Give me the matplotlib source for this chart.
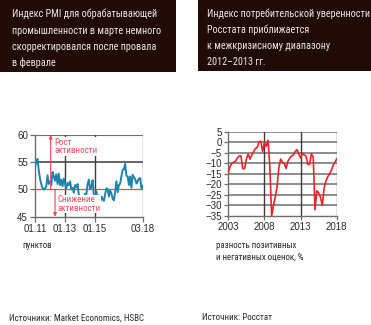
import matplotlib
matplotlib.use("Agg")
import os
import matplotlib.pyplot as plt
from matplotlib import font_manager
from matplotlib.font_manager import FontProperties

# --- data -----------------------------------------------------------------
# Manufacturing PMI, monthly, Jan 2011 .. Mar 2018
pmi_values = [
    54.2, 55.0, 55.6, 53.5, 52.0, 51.0, 50.3, 50.0, 50.2, 50.6, 52.6, 51.0,
    51.5, 50.8, 53.2, 52.4, 51.6, 52.8, 51.0, 52.9, 50.8, 51.8, 50.6, 52.0,
    51.0, 50.2, 51.2, 50.8, 51.5, 50.0, 50.3, 49.4, 50.8, 50.4, 51.0, 49.0,
    48.4, 48.8, 48.3, 48.6, 49.2, 49.1, 51.0, 51.8, 50.1, 50.4, 51.7, 48.9,
    47.6, 49.7, 48.1, 48.9, 47.6, 48.7, 48.3, 47.9, 49.1, 50.2, 50.1, 48.7,
    49.8, 49.3, 48.3, 48.0, 49.6, 51.5, 49.5, 50.8, 51.1, 52.4, 53.6, 53.7,
    54.7, 52.5, 52.4, 50.8, 52.4, 50.3, 52.7, 52.2, 51.9, 51.1, 51.5, 52.0,
    52.1, 50.2, 50.6,
]
pmi_tick_months = [0, 24, 48, 86]
pmi_tick_labels = ["01.11", "01.13", "01.15", "03.18"]
pmi_yticks = [45, 50, 55, 60]

# Rosstat consumer confidence index, quarterly, Q1 2003 .. Q1 2018
cci_start_year = 2003
cci_values = [
    -14.5, -11.5, -10.0, -9.5,
    -9.0, -7.5, -6.5, -6.5,
    -12.5, -12.5, -8.0, -5.5,
    -8.0, -6.0, -4.5, -3.0,
    -2.5, 0.0, 0.5, -4.5,
    0.0, -2.0, 1.0, -12.0,
    -35.0, -30.0, -26.0, -21.0,
    -12.0, -8.0, -9.5, -10.0,
    -12.5, -9.0, -7.5, -6.5,
    -6.0, -4.5, -3.5, -5.5,
    -7.5, -5.5, -6.0, -6.5,
    -10.5, -10.5, -5.5, -7.0,
    -32.0, -23.0, -24.0, -26.0,
    -30.0, -22.0, -18.5, -16.5,
    -15.0, -13.5, -11.0, -9.5,
    -8.0,
]
cci_xticks = [2003, 2008, 2013, 2018]
cci_yticks = [5, 0, -5, -10, -15, -20, -25, -30, -35]

title_left = ["Индекс PMI для обрабатывающей",
              "промышленности в марте немного",
              "скорректировался после провала",
              "в феврале"]
title_right = ["Индекс потребительской уверенности",
               "Росстата приближается",
               "к межкризисному диапазону",
               "2012–2013 гг."]
note_up = "Рост\nактивности"
note_down = "Снижение\nактивности"
unit_left = "пунктов"
unit_right = ["разность позитивных", "и негативных оценок, %"]
source_left = "Источники: Market Economics, HSBC"
source_right = "Источник: Росстат"

W, H = 371, 325
fig = plt.figure(figsize=(W / 100, H / 100), dpi=100)
fig.patch.set_facecolor("white")
renderer = fig.canvas.get_renderer()


# --- fonts ----------------------------------------------------------------
def text_width(text, fp):
    probe = fig.text(0, 0, text, fontproperties=fp)
    w = probe.get_window_extent(renderer=renderer).width
    probe.remove()
    return w


def narrow_candidates():
    keys = ["liberationsansnarrow-regular", "notosans-extracondensed.",
            "notosans-condensed.", "notosans-semicondensed.",
            "dejavusanscondensed.", "opensans-condensed", "opensans_condensed-regular",
            "robotocondensed-regular", "roboto_condensed-regular"]
    found = []
    for f in font_manager.fontManager.ttflist:
        base = os.path.basename(f.fname).lower()
        if any(k in base for k in keys) and f.fname not in found:
            found.append(f.fname)
    return found


# pick the condensed face whose proportions best fit the header line
# (about 162 px wide at roughly 8.4 pt)
best_path, best_err = None, None
for path in narrow_candidates():
    try:
        w = text_width(title_right[0], FontProperties(fname=path, size=10))
    except Exception:
        continue
    size = 10 * 162 / w
    err = abs(size - 8.4)
    if best_err is None or err < best_err:
        best_path, best_err = path, err


def narrow_fp(size):
    if best_path:
        return FontProperties(fname=best_path, size=size)
    return FontProperties(family="DejaVu Sans", stretch="condensed", size=size)


def fit_size(text, width_px, max_size):
    """Font size (pt) at which `text` spans about width_px pixels."""
    w = text_width(text, narrow_fp(10))
    return min(max_size, 10 * width_px / w)


names = {f.name for f in font_manager.fontManager.ttflist}
TICKFONT = "Liberation Sans" if "Liberation Sans" in names else "DejaVu Sans"

BOX = "#200b07"
GRID = "#6e6e6e"
DARK = "#3c3c3c"
PMI_BLUE = "#1c84ad"
RED_LINE = "#e8242a"
RED_NOTE = "#e84a5c"
TXT = "#2a2a2a"


def fx(px):
    return px / W


def fy(py):
    return 1 - py / H


def add_axes_px(x0, y_top, x1, y_bot):
    return fig.add_axes([fx(x0), fy(y_bot), fx(x1) - fx(x0), (y_bot - y_top) / H])


# header boxes
bg = fig.add_axes([0, 0, 1, 1])
bg.set_xlim(0, W)
bg.set_ylim(H, 0)
bg.axis("off")
bg.add_patch(plt.Rectangle((0, 0), 176, 71.5, color=BOX, lw=0))
bg.add_patch(plt.Rectangle((198.3, 0), W - 198.3, 70.8, color=BOX, lw=0))

size_tl = fit_size(title_left[0], 147, 8.8)
size_tr = fit_size(title_right[0], 162, 8.8)
size_t = min(size_tl, size_tr)
for i, line in enumerate(title_left):
    bg.text(11.7, [17.3, 34.0, 50.0, 65.7][i], line, fontproperties=narrow_fp(size_t),
            color="#ece8e4", va="baseline", ha="left")
for i, line in enumerate(title_right):
    bg.text(206.7, [16.7, 33.3, 49.3, 65.0][i], line, fontproperties=narrow_fp(size_t),
            color="#ece8e4", va="baseline", ha="left")

size_u = fit_size(unit_right[0], 80, 7.6)
bg.text(22, 247.5, unit_left, fontproperties=narrow_fp(size_u), color=TXT, va="baseline")
bg.text(216, 247.5, unit_right[0], fontproperties=narrow_fp(size_u), color=TXT, va="baseline")
bg.text(216, 259.3, unit_right[1], fontproperties=narrow_fp(size_u), color=TXT, va="baseline")
size_s = fit_size(source_left, 134, 7.8)
bg.text(9, 320.5, source_left, fontproperties=narrow_fp(size_s), color=TXT, va="baseline")
bg.text(202, 320.5, source_right, fontproperties=narrow_fp(size_s), color=TXT, va="baseline")

# --- PMI panel ------------------------------------------------------------
ax1 = add_axes_px(35, 135, 142.7, 216.7)
months = list(range(len(pmi_values)))
ax1.set_xlim(0, 86)
ax1.set_ylim(45, 60)
for s in ("top", "right"):
    ax1.spines[s].set_visible(False)
for s in ("left", "bottom"):
    ax1.spines[s].set_color(GRID)
    ax1.spines[s].set_linewidth(1.0)

ax1.axhline(60, color=GRID, lw=0.8, zorder=1)
ax1.axhline(55, color=DARK, lw=1.1, zorder=1)
for m in pmi_tick_months[1:]:
    ax1.axvline(m, color=DARK if m < 86 else GRID, lw=1.0, zorder=1)
ax1.axhline(50, color=RED_NOTE, lw=0.9, zorder=2)

ax1.plot(months, pmi_values, color=PMI_BLUE, lw=1.4, zorder=3, solid_joinstyle="round")

# growth / contraction arrows
ax1.annotate("", xy=(12.5, 60), xytext=(12.5, 50),
             arrowprops=dict(arrowstyle="-|>", color=RED_NOTE, lw=0.8,
                             mutation_scale=5, shrinkA=0, shrinkB=0), zorder=4)
ax1.annotate("", xy=(16, 45), xytext=(16, 50),
             arrowprops=dict(arrowstyle="-|>", color=RED_NOTE, lw=0.8,
                             mutation_scale=5, shrinkA=0, shrinkB=0), zorder=4)
size_n = fit_size("активности", 43, 8.4)
ax1.text(15.5, 57.9, note_up, fontproperties=narrow_fp(size_n),
         color=RED_NOTE, va="center", ha="left", linespacing=0.95,
         bbox=dict(facecolor="white", edgecolor="none", pad=0.3), zorder=5)
ax1.text(17.8, 47.3, note_down, fontproperties=narrow_fp(size_n),
         color=RED_NOTE, va="center", ha="left", linespacing=0.95,
         bbox=dict(facecolor="white", edgecolor="none", pad=0.3), zorder=5)

ax1.set_xticks(pmi_tick_months)
ax1.set_xticklabels(pmi_tick_labels)
ax1.set_yticks(pmi_yticks)
ax1.tick_params(axis="both", length=3.5, width=0.9, color=GRID, labelsize=7.0,
                labelcolor=TXT, pad=1.5)
for lab in ax1.get_xticklabels() + ax1.get_yticklabels():
    lab.set_family(TICKFONT)

# --- consumer confidence panel -------------------------------------------
ax2 = add_axes_px(228.3, 131.7, 336.7, 216.0)
years = [cci_start_year + q / 4 for q in range(len(cci_values))]
ax2.set_xlim(2003, 2018)
ax2.set_ylim(-35, 5)
for s in ("top", "right"):
    ax2.spines[s].set_visible(False)
for s in ("left", "bottom"):
    ax2.spines[s].set_color(GRID)
    ax2.spines[s].set_linewidth(1.0)
for v in cci_yticks[:-1]:
    ax2.axhline(v, color=GRID, lw=1.1, zorder=1)
for yv in cci_xticks[1:]:
    ax2.axvline(yv, color=DARK if yv < 2018 else GRID, lw=1.0, zorder=1)

ax2.plot(years, cci_values, color=RED_LINE, lw=1.2, zorder=3, solid_joinstyle="round")

ax2.set_xticks(cci_xticks)
ax2.set_yticks(cci_yticks)
ax2.tick_params(axis="both", length=3.0, width=0.9, color=GRID, labelsize=7.0,
                labelcolor=TXT, pad=1.5)
for lab in ax2.get_xticklabels() + ax2.get_yticklabels():
    lab.set_family(TICKFONT)

fig.savefig("out.png", dpi=100)
